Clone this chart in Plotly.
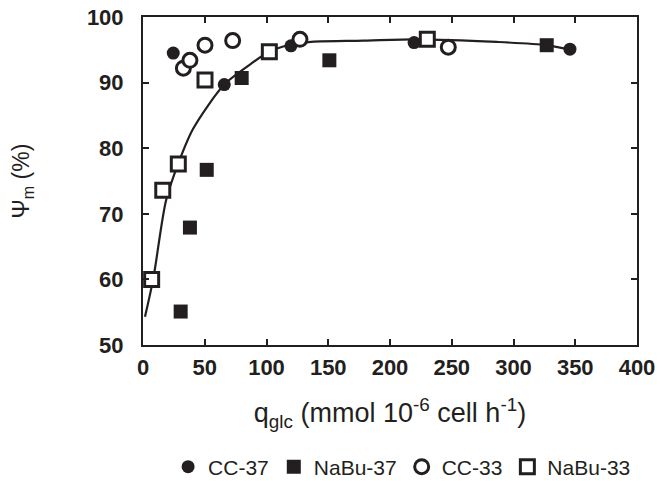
import plotly.graph_objects as go

# Data
cc37_x = [24.5, 65.8, 119.8, 219.5, 345.7]
cc37_y = [94.5, 89.7, 95.6, 96.1, 95.1]

nabu37_x = [30.5, 38.0, 51.6, 79.9, 150.9, 326.9]
nabu37_y = [55.1, 67.9, 76.7, 90.7, 93.4, 95.7]

cc33_x = [32.7, 38.0, 50.2, 72.6, 127.1, 247.2]
cc33_y = [92.2, 93.4, 95.7, 96.4, 96.6, 95.4]

nabu33_x = [7.0, 16.0, 28.6, 50.2, 102.3, 230.2]
nabu33_y = [60.0, 73.6, 77.6, 90.4, 94.7, 96.6]

fit_x = [1.6, 8.4, 18.6, 28.6, 40.7, 65.8, 84.0, 102.3, 124.4, 178.4, 219.5, 286.4, 326.9, 345.7]
fit_y = [54.3, 60.2, 72.0, 77.7, 83.0, 89.7, 92.4, 94.7, 96.0, 96.4, 96.6, 96.2, 95.7, 95.0]

x_ticks = [0, 50, 100, 150, 200, 250, 300, 350, 400]
y_ticks = [50, 60, 70, 80, 90, 100]

INK = "#231f20"

fig = go.Figure()

fig.add_trace(go.Scatter(x=fit_x, y=fit_y, mode="lines",
                         line=dict(color=INK, width=2.2, shape="spline", smoothing=0.8),
                         showlegend=False, hoverinfo="skip"))

fig.add_trace(go.Scatter(x=cc37_x, y=cc37_y, mode="markers", name="CC-37",
                         marker=dict(symbol="circle", size=13, color=INK, line=dict(width=0))))
fig.add_trace(go.Scatter(x=nabu37_x, y=nabu37_y, mode="markers", name="NaBu-37",
                         marker=dict(symbol="square", size=14, color=INK, line=dict(width=0))))
fig.add_trace(go.Scatter(x=cc33_x, y=cc33_y, mode="markers", name="CC-33",
                         marker=dict(symbol="circle", size=14, color="white", line=dict(width=3, color=INK))))
fig.add_trace(go.Scatter(x=nabu33_x, y=nabu33_y, mode="markers", name="NaBu-33",
                         marker=dict(symbol="square", size=14, color="white", line=dict(width=3, color=INK))))

axis_common = dict(showline=True, linecolor=INK, linewidth=2, mirror="ticks",
                   ticks="inside", ticklen=6, tickwidth=2, tickcolor=INK,
                   showgrid=False, zeroline=False, automargin=False,
                   ticklabeloverflow="allow",
                   tickfont=dict(family="Liberation Sans", size=22, color=INK, weight="bold"))

fig.update_xaxes(range=[0, 400], tickvals=x_ticks, ticktext=[str(v) for v in x_ticks],
                 title=dict(text="q<sub>glc</sub> (mmol 10<sup>-6</sup> cell h<sup>-1</sup>)",
                            font=dict(family="Liberation Sans", size=27, color=INK), standoff=24),
                 ticklabelstandoff=2, **axis_common)
fig.update_yaxes(range=[50, 100], tickvals=y_ticks, ticktext=[str(v) for v in y_ticks],
                 title=dict(text="Ψ<sub>m</sub> (%)",
                            font=dict(family="Liberation Sans", size=23, color=INK), standoff=51),
                 ticklabelstandoff=13, **axis_common)

fig.update_layout(
    width=671, height=481,
    margin=dict(l=143, r=34, t=17, b=136, autoexpand=False),
    plot_bgcolor="white", paper_bgcolor="white",
    showlegend=True,
    legend=dict(orientation="h", xref="container", yref="container",
                x=0.948, xanchor="right", y=0.029, yanchor="middle",
                font=dict(family="Liberation Sans", size=21, color=INK),
                itemwidth=30, tracegroupgap=0),
)

# remove the browser's default 8px body margin so the figure fills the window
fig.write_html("out.html", config={"displayModeBar": False},
               post_script="document.body.style.margin='0';")
